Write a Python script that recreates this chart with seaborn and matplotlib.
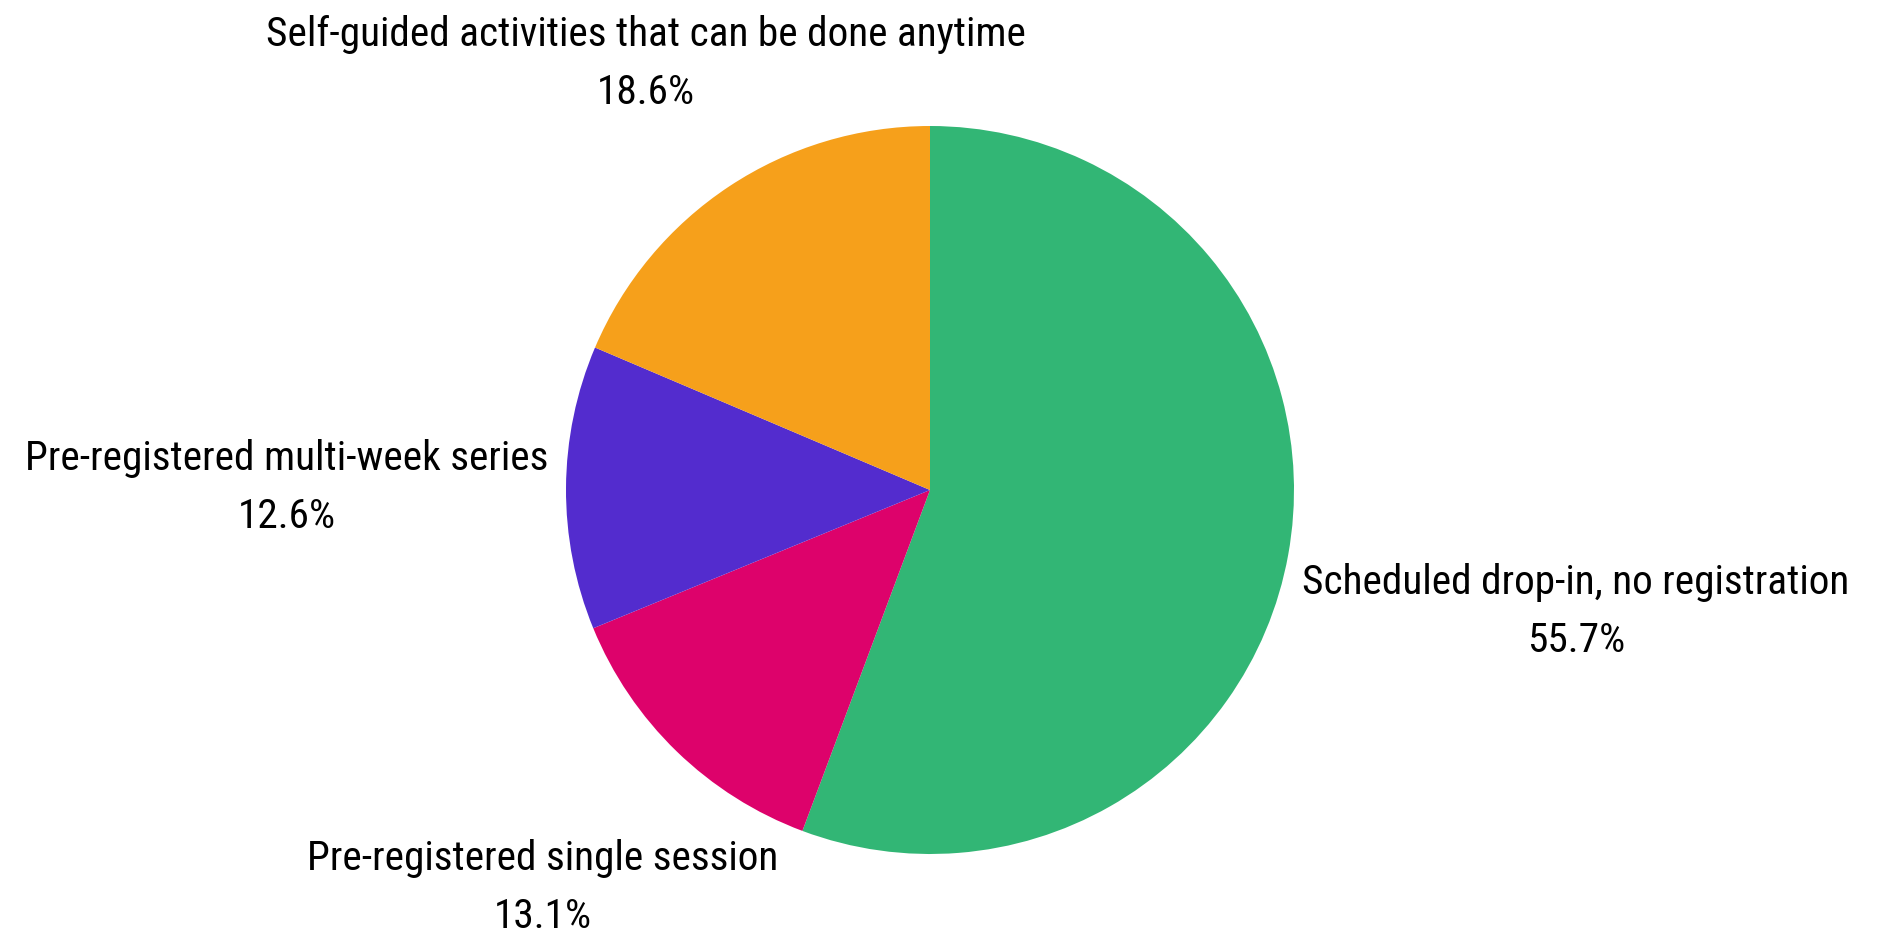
import matplotlib
matplotlib.use("Agg")
import matplotlib.pyplot as plt
import seaborn as sns

categories = [
    "Scheduled drop-in, no registration",
    "Pre-registered single session",
    "Pre-registered multi-week series",
    "Self-guided activities that can be done anytime",
]
shares = [55.7, 13.1, 12.6, 18.6]
colors = ["#32B675", "#DD026B", "#532CCE", "#F6A01B"]

sns.set_theme(style="white")
plt.rcParams["font.family"] = ["Roboto Condensed", "Roboto", "DejaVu Sans"]

W, H = 1894, 934
fig = plt.figure(figsize=(W / 100, H / 100), dpi=100)
cx, cy, r = 930, 490, 364
ax = fig.add_axes([(cx - r) / W, (H - cy - r) / H, 2 * r / W, 2 * r / H])
ax.pie(shares, colors=colors, startangle=90, counterclock=False,
       wedgeprops=dict(linewidth=0))
ax.set_xlim(-1, 1)
ax.set_ylim(-1, 1)
ax.set_aspect("equal")
ax.axis("off")

# label centre positions in figure pixels (name line; value sits below)
label_pos = [(1576, 583), (543, 859), (287, 459), (646, 34)]
for cat, val, (px, py) in zip(categories, shares, label_pos):
    fig.text(px / W, 1 - py / H, cat, ha="center", va="center",
             fontsize=29.7, color="black")
    fig.text(px / W, 1 - (py + 58) / H, f"{val:.1f}%", ha="center",
             va="center", fontsize=29.7, color="black")

fig.savefig("out.png", dpi=100, facecolor="white")
